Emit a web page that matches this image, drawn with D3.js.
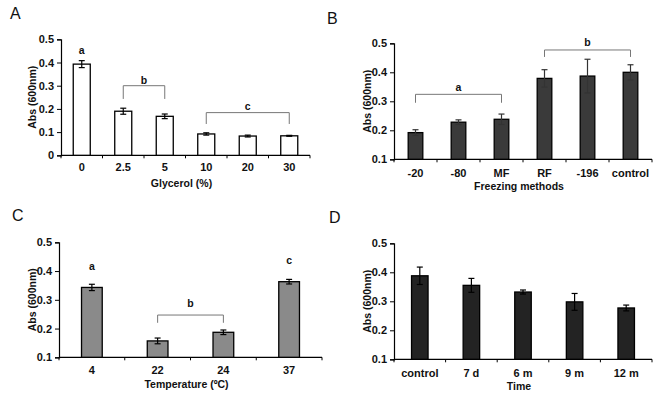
<!DOCTYPE html>
<html>
<head>
<meta charset="utf-8">
<script src="https://cdn.jsdelivr.net/npm/d3@7"></script>
<style>
  body { margin: 0; background: #fff; }
  svg { font-family: "Liberation Sans", Arial, sans-serif; }
</style>
</head>
<body>
<div id="chart"></div>
<script>
// panel A - glycerol
var glycerolCats = ["0", "2.5", "5", "10", "20", "30"];
var glycerolMeans = [0.393, 0.190, 0.168, 0.092, 0.083, 0.084];
var glycerolErrs = [0.015, 0.013, 0.010, 0.005, 0.004, 0.002];

// panel B - freezing methods
var freezingCats = ["-20", "-80", "MF", "RF", "-196", "control"];
var freezingMeans = [0.192, 0.228, 0.238, 0.379, 0.387, 0.400];
var freezingErrs = [0.010, 0.008, 0.018, 0.030, 0.058, 0.026];

// panel C - temperature
var tempCats = ["4", "22", "24", "37"];
var tempMeans = [0.343, 0.157, 0.187, 0.363];
var tempErrs = [0.011, 0.010, 0.008, 0.008];

// panel D - time
var timeCats = ["control", "7 d", "6 m", "9 m", "12 m"];
var timeMeans = [0.388, 0.355, 0.332, 0.298, 0.277];
var timeErrs = [0.030, 0.024, 0.007, 0.029, 0.010];

var yTicksA = [0, 0.1, 0.2, 0.3, 0.4, 0.5];
var yTicksB = [0.1, 0.2, 0.3, 0.4, 0.5];

var svg = d3.select("#chart").append("svg")
    .attr("width", 669)
    .attr("height", 399);

var panels = [
    {letter: "A", lx: 10, ly: 19, cats: glycerolCats, means: glycerolMeans, errs: glycerolErrs,
     x0: 61, x1: 310, yTop: 39.3, yBot: 155.3, domain: [0, 0.5], ticks: yTicksA,
     pad: 0.59, fill: "#ffffff", errColor: "#000", xLabel: "Glycerol (%)",
     tickY: 171, titleY: 187, yTitleX: 32,
     brackets: [{from: 1, to: 2, top: 0.300, end: 0.243, label: "b", labelY: 0.307},
                {from: 3, to: 5, top: 0.184, end: 0.135, label: "c", labelY: 0.195}],
     singles: [{idx: 0, label: "a", labelY: 0.437}]},
    {letter: "B", lx: 327, ly: 24, cats: freezingCats, means: freezingMeans, errs: freezingErrs,
     x0: 394, x1: 652, yTop: 43.3, yBot: 159.3, domain: [0.1, 0.5], ticks: yTicksB,
     pad: 0.66, fill: "#3a3a3a", errColor: "#333", xLabel: "Freezing methods",
     tickY: 177, titleY: 190, yTitleX: 367,
     brackets: [{from: 0, to: 2, top: 0.324, end: 0.295, label: "a", labelY: 0.334},
                {from: 3, to: 5, top: 0.477, end: 0.453, label: "b", labelY: 0.489}],
     singles: []},
    {letter: "C", lx: 12, ly: 221, cats: tempCats, means: tempMeans, errs: tempErrs,
     x0: 59, x1: 322, yTop: 242.3, yBot: 357.3, domain: [0.1, 0.5], ticks: yTicksB,
     pad: 0.685, fill: "#8a8a8a", errColor: "#000", xLabel: "Temperature (\u00baC)",
     tickY: 374, titleY: 388, yTitleX: 32,
     brackets: [{from: 1, to: 2, top: 0.247, end: 0.220, label: "b", labelY: 0.275}],
     singles: [{idx: 0, label: "a", labelY: 0.404}, {idx: 3, label: "c", labelY: 0.425}]},
    {letter: "D", lx: 329, ly: 223, cats: timeCats, means: timeMeans, errs: timeErrs,
     x0: 394, x1: 652, yTop: 243.3, yBot: 359.3, domain: [0.1, 0.5], ticks: yTicksB,
     pad: 0.68, fill: "#232323", errColor: "#000", xLabel: "Time",
     tickY: 377, titleY: 390, yTitleX: 367,
     brackets: [], singles: []}
];

panels.forEach(function(p) { drawPanel(p); });

function drawPanel(p) {
    var g = svg.append("g");

    var x = d3.scaleBand()
        .domain(p.cats)
        .range([p.x0, p.x1])
        .paddingInner(p.pad)
        .paddingOuter(p.pad / 2);

    var y = d3.scaleLinear()
        .domain(p.domain)
        .range([p.yBot, p.yTop]);

    var data = p.cats.map(function(c, i) { return {cat: c, mean: p.means[i], err: p.errs[i]}; });

    // panel letter
    g.append("text")
        .attr("x", p.lx)
        .attr("y", p.ly)
        .attr("font-size", "16px")
        .attr("fill", "#111")
        .text(p.letter);

    // y axis
    var yAxis = d3.axisLeft(y)
        .tickValues(p.ticks)
        .tickSize(4)
        .tickFormat(function(d) { return d === 0 ? "0" : d.toFixed(1); });
    var ya = g.append("g")
        .attr("transform", "translate(" + p.x0 + ",0)")
        .call(yAxis);
    ya.select(".domain").attr("stroke", "#000").attr("stroke-width", 1.2);
    ya.selectAll(".tick line").attr("stroke", "#000");
    ya.selectAll(".tick text")
        .attr("x", -7)
        .attr("font-family", "Liberation Sans, Arial, sans-serif")
        .attr("font-size", "11px")
        .attr("font-weight", "bold")
        .attr("fill", "#111");

    // x axis line + small ticks between categories
    g.append("line")
        .attr("x1", p.x0).attr("x2", p.x1)
        .attr("y1", p.yBot).attr("y2", p.yBot)
        .attr("stroke", "#000").attr("stroke-width", 1.2);
    var step = x.step();
    d3.range(p.cats.length + 1).forEach(function(i) {
        var xx = p.x0 + i * step;
        g.append("line")
            .attr("x1", xx).attr("x2", xx)
            .attr("y1", p.yBot).attr("y2", p.yBot + 3)
            .attr("stroke", "#000");
    });

    // x tick labels
    g.selectAll(".xlab").data(data).enter().append("text")
        .attr("class", "xlab")
        .attr("x", function(d) { return x(d.cat) + x.bandwidth() / 2; })
        .attr("y", p.tickY)
        .attr("text-anchor", "middle")
        .attr("font-size", "11px")
        .attr("font-weight", "bold")
        .attr("fill", "#111")
        .text(function(d) { return d.cat; });

    // axis titles
    g.append("text")
        .attr("x", (p.x0 + p.x1) / 2 - 4)
        .attr("y", p.titleY)
        .attr("text-anchor", "middle")
        .attr("font-size", "10.5px")
        .attr("font-weight", "bold")
        .attr("fill", "#111")
        .text(p.xLabel);

    g.append("text")
        .attr("transform", "translate(" + (p.yTitleX + 4) + "," + ((p.yTop + p.yBot) / 2) + ") rotate(-90)")
        .attr("text-anchor", "middle")
        .attr("font-size", "10.5px")
        .attr("font-weight", "bold")
        .attr("fill", "#111")
        .text("Abs (600nm)");

    // bars
    g.selectAll(".bar").data(data).enter().append("rect")
        .attr("class", "bar")
        .attr("x", function(d) { return x(d.cat); })
        .attr("y", function(d) { return y(d.mean); })
        .attr("width", x.bandwidth())
        .attr("height", function(d) { return p.yBot - y(d.mean); })
        .attr("fill", p.fill)
        .attr("stroke", "#000")
        .attr("stroke-width", 1.3);

    // error bars
    var cx = function(d) { return x(d.cat) + x.bandwidth() / 2; };
    var eb = g.selectAll(".err").data(data).enter().append("g").attr("class", "err")
        .attr("stroke", p.errColor).attr("stroke-width", 1.2);
    eb.append("line")
        .attr("x1", cx).attr("x2", cx)
        .attr("y1", function(d) { return y(d.mean + d.err); })
        .attr("y2", function(d) { return y(d.mean - d.err); });
    eb.append("line")
        .attr("x1", function(d) { return cx(d) - 3; })
        .attr("x2", function(d) { return cx(d) + 3; })
        .attr("y1", function(d) { return y(d.mean + d.err); })
        .attr("y2", function(d) { return y(d.mean + d.err); });
    eb.append("line")
        .attr("x1", function(d) { return cx(d) - 3; })
        .attr("x2", function(d) { return cx(d) + 3; })
        .attr("y1", function(d) { return y(d.mean - d.err); })
        .attr("y2", function(d) { return y(d.mean - d.err); });

    // brackets
    p.brackets.forEach(function(b) {
        var xa = cx(data[b.from]), xb = cx(data[b.to]);
        g.append("path")
            .attr("d", "M" + xa + "," + y(b.end) + "V" + y(b.top) + "H" + xb + "V" + y(b.end))
            .attr("fill", "none")
            .attr("stroke", "#777")
            .attr("stroke-width", 1);
        g.append("text")
            .attr("x", (xa + xb) / 2)
            .attr("y", y(b.labelY))
            .attr("text-anchor", "middle")
            .attr("font-size", "10.5px")
            .attr("font-weight", "bold")
            .attr("fill", "#111")
            .text(b.label);
    });

    p.singles.forEach(function(s) {
        g.append("text")
            .attr("x", cx(data[s.idx]))
            .attr("y", y(s.labelY))
            .attr("text-anchor", "middle")
            .attr("font-size", "10.5px")
            .attr("font-weight", "bold")
            .attr("fill", "#111")
            .text(s.label);
    });
}
</script>
</body>
</html>
